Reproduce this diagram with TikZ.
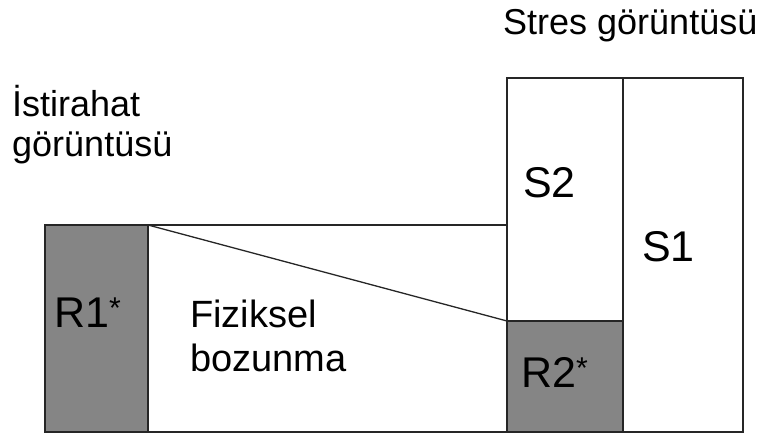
\documentclass[tikz,border=0pt]{standalone}
\usepackage{fontspec}
\setmainfont{Liberation Sans}

\begin{document}
\begin{tikzpicture}[x=1pt,y=-1pt,
  wall/.style={line width=1.6pt, draw=black!85},
  shade/.style={wall, fill=black!48},
  tag/.style={anchor=base west, inner sep=0pt, font=\fontsize{43}{43}\selectfont},
  note/.style={anchor=base west, inner sep=0pt, font=\fontsize{38}{38}\selectfont},
  head/.style={anchor=base west, inner sep=0pt, font=\fontsize{36}{36}\selectfont}]
\useasboundingbox (0,0) rectangle (761,435);
% corners
\coordinate (r1nw) at (45,225);
\coordinate (r1ne) at (148,225);
\coordinate (r1se) at (148,432);
\coordinate (s2nw) at (507,78);
\coordinate (s2w) at (507,225);
\coordinate (r2nw) at (507,321);
\coordinate (r2ne) at (623,321);
\coordinate (s1nw) at (623,78);
\coordinate (s1se) at (743,432);
% rest image
\draw[shade] (r1nw) rectangle (r1se);
\draw[wall] (r1ne) -- (s2w);
\draw[wall] (r1se) -- (r2nw |- r1se);
\draw[line width=1.3pt, black!85] (r1ne) -- (r2nw);
% stress image
\draw[wall] (s2nw) rectangle (r2ne |- s1se);
\draw[shade] (r2nw) rectangle (r2ne |- s1se);
\draw[wall] (s1nw) rectangle (s1se);
% labels
\node[head] (stres) at (503,35) {Stres görüntüsü};
\node[head] (ist1) at (12,117) {İstirahat};
\node[head] (ist2) at (12,157) {görüntüsü};
\node[tag] (s2) at (523,198) {S2};
\node[tag] (s1) at (642,262) {S1};
\node[tag] (r1) at (54,328) {R1\textsuperscript{*}};
\node[tag] (r2) at (521,388) {R2\textsuperscript{*}};
\node[note] (fiz) at (190,328) {Fiziksel};
\node[note] (boz) at (190,372) {bozunma};
\end{tikzpicture}
\end{document}
